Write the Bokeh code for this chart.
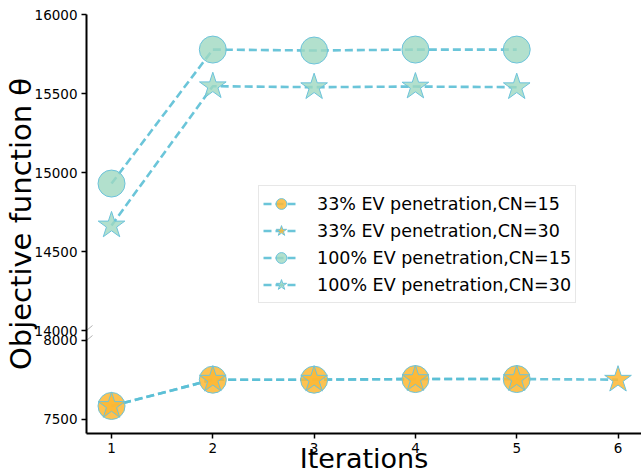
from bokeh.plotting import figure
from bokeh.models import (Range1d, FixedTicker, Legend, LegendItem, PolyAnnotation)
from bokeh.embed import file_html
from bokeh.resources import INLINE

# ---------------- data ----------------
iters_33_cn15 = [1, 2, 3, 4, 5]
iters_33_cn30 = [1, 2, 3, 4, 5, 6]
iters_100_cn15 = [1, 2, 3, 4, 5]
iters_100_cn30 = [1, 2, 3, 4, 5]
ev33_cn15 = [7584, 7751, 7751, 7755, 7755]
ev33_cn30 = [7584, 7751, 7751, 7755, 7755, 7751]
ev100_cn15 = [14930, 15778, 15772, 15778, 15778]
ev100_cn30 = [14665, 15546, 15540, 15544, 15540]
upper_ticks = [14000, 14500, 15000, 15500, 16000]
lower_ticks = [7500, 8000]
x_ticks = [1, 2, 3, 4, 5, 6]
series_labels = ["33% EV penetration,CN=15", "33% EV penetration,CN=30",
                 "100% EV penetration,CN=15", "100% EV penetration,CN=30"]
upper_lim = (14000, 16000)
lower_lim = (7409, 8000)
x_lim_start = 0.753

# ---------------- layout ----------------
W, H = 641, 476
B_LEFT, B_RIGHT, B_TOP, B_BOTTOM = 86, 0, 14, 43
frame_w = W - B_LEFT - B_RIGHT
frame_h = H - B_TOP - B_BOTTOM
upper_px, gap_px = 316, 10
lower_px = frame_h - upper_px - gap_px
px_per_x = 101.3

u_up = (upper_lim[1] - upper_lim[0]) / upper_px
u_lo = (lower_lim[1] - lower_lim[0]) / lower_px
x_range = Range1d(x_lim_start, x_lim_start + frame_w / px_per_x)
y_main = Range1d(upper_lim[1] - frame_h * u_up, upper_lim[1])
y_low = Range1d(lower_lim[0], lower_lim[0] + frame_h * u_lo)


def low_to_main(v):
    return y_main.start + (v - lower_lim[0]) / u_lo * u_up


lower_tick_pos = [round(low_to_main(v)) for v in lower_ticks]

FONT = "DejaVu Sans"
LINE_C = "#5bbfd5"
EDGE_C = "#6cc3db"
ORANGE = "#fdb733"
GREEN = "#9fd8c0"

p = figure(width=W, height=H, x_range=x_range, y_range=y_main,
           output_backend="svg", toolbar_location=None,
           min_border_left=B_LEFT, min_border_right=B_RIGHT,
           min_border_top=B_TOP, min_border_bottom=B_BOTTOM)
p.extra_y_ranges = {"low": y_low}
p.xgrid.visible = False
p.ygrid.visible = False
p.outline_line_color = None
p.background_fill_color = "white"
p.border_fill_color = "white"

for ax in (p.xaxis[0], p.yaxis[0]):
    ax.axis_line_width = 2
    ax.axis_line_color = "black"
    ax.major_tick_out = 5
    ax.major_tick_in = 0
    ax.major_tick_line_width = 1.5
    ax.minor_tick_out = 0
    ax.minor_tick_in = 0
    ax.major_label_text_font = FONT
    ax.major_label_text_font_size = "13.5px"
    ax.major_label_text_color = "black"
    ax.major_label_standoff = 4
    ax.axis_label_text_font = FONT
    ax.axis_label_text_font_style = "normal"
    ax.axis_label_text_color = "black"

ya = p.yaxis[0]
ya.ticker = FixedTicker(ticks=lower_tick_pos + upper_ticks)
ya.major_label_overrides = {pos: str(v) for pos, v in zip(lower_tick_pos, lower_ticks)}
ya.axis_label = "Objective function θ"
ya.axis_label_text_font_size = "29px"
ya.axis_label_standoff = -6

xa = p.xaxis[0]
xa.ticker = FixedTicker(ticks=x_ticks)
xa.axis_label = "Iterations"
xa.axis_label_text_font_size = "27px"
xa.axis_label_standoff = -13

# ---------------- glyphs ----------------
line_kw = dict(line_color=LINE_C, line_width=2.6, line_dash="8 4", line_alpha=0.9)

l1 = p.line(iters_33_cn15, ev33_cn15, y_range_name="low", **line_kw)
l2 = p.line(iters_33_cn30, ev33_cn30, y_range_name="low", **line_kw)
l3 = p.line(iters_100_cn15, ev100_cn15, **line_kw)
l4 = p.line(iters_100_cn30, ev100_cn30, **line_kw)

m1 = p.scatter(iters_33_cn15, ev33_cn15, y_range_name="low", marker="circle",
               size=27, fill_color=ORANGE, fill_alpha=0.85,
               line_color=EDGE_C, line_width=1)
m2 = p.scatter(iters_33_cn30, ev33_cn30, y_range_name="low", marker="star",
               size=28, fill_color=ORANGE, fill_alpha=0.85,
               line_color=EDGE_C, line_width=1)
m3 = p.scatter(iters_100_cn15, ev100_cn15, marker="circle",
               size=27, fill_color=GREEN, fill_alpha=0.8,
               line_color=EDGE_C, line_width=1)
m4 = p.scatter(iters_100_cn30, ev100_cn30, marker="star",
               size=28, fill_color=GREEN, fill_alpha=0.8,
               line_color=EDGE_C, line_width=1)

legend = Legend(items=[
    LegendItem(label=series_labels[0], renderers=[l1, m1]),
    LegendItem(label=series_labels[1], renderers=[l2, m2]),
    LegendItem(label=series_labels[2], renderers=[l3, m3]),
    LegendItem(label=series_labels[3], renderers=[l4, m4]),
], location=(172, 130))
legend.label_text_font = FONT
legend.label_text_font_size = "17.5px"
legend.label_text_color = "black"
legend.glyph_width = 36
legend.glyph_height = 27
legend.label_height = 27
legend.spacing = 0
legend.padding = 4
legend.margin = 0
legend.label_standoff = 18
legend.border_line_color = "#d0d0d0"
legend.border_line_width = 1
legend.background_fill_alpha = 0.8
p.add_layout(legend, "center")


# ---------------- break marks ----------------
def dx(px):
    return x_lim_start + px / px_per_x


def dy(py_from_top):
    return upper_lim[1] - py_from_top * u_up


for y0 in (upper_px, upper_px + gap_px):
    p.add_layout(PolyAnnotation(xs=[dx(-6), dx(6)], ys=[dy(y0 + 5), dy(y0 - 5)],
                                fill_alpha=0, line_color="black", line_width=1))

open("out.html", "w").write(file_html(p, INLINE))
